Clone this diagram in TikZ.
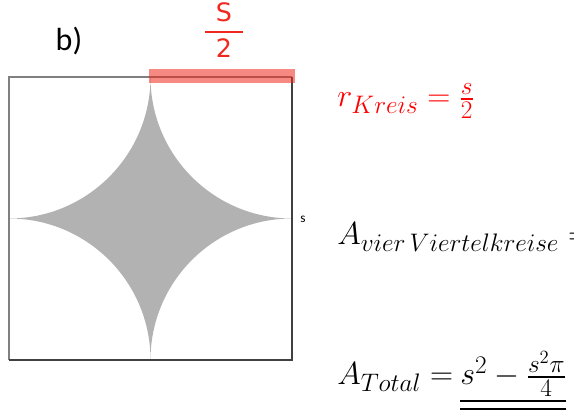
\RequirePackage{fix-cm}
\documentclass[tikz,border=0pt]{standalone}
\usepackage{amsmath}
\usepackage{fontspec}
\newfontfamily\calfont{Carlito}
\newfontfamily\handfont{DejaVu Sans}
\DeclareMathSizes{24}{24}{19}{14}
\usetikzlibrary{positioning}
\definecolor{starfill}{RGB}{178,178,178}
\definecolor{markred}{RGB}{240,40,30}
\definecolor{formred}{RGB}{255,0,0}

\begin{document}
\begin{tikzpicture}[x=0.75pt, y=0.75pt,
    formula/.style={anchor=base west, inner sep=0pt, font=\fontsize{24}{28}\selectfont},
    hand/.style={text=markred, inner sep=0pt, font=\fontsize{19}{24}\selectfont},
    edge/.style={line width=1.5pt, line cap=square}]
  \useasboundingbox (0,0) rectangle (574,416);
  \clip (0,0) rectangle (574,416);
  % the star: square minus four quarter circles
  \fill[starfill] (150.5,339) arc (0:-90:141.5) arc (90:0:141.5)
    arc (180:90:141.5) arc (270:180:141.5) -- cycle;
  \draw[edge, black!50] (292,339) -- (9,339) -- (9,56);
  \draw[edge, black!75] (9,56) -- (292,56) -- (292,339);
  % marked half side
  \fill[markred, opacity=0.55] (149,333) rectangle (295,347);
  \node[hand] (half) at (224,386)
    {$\genfrac{}{}{1.5pt}{0}{\makebox[28pt]{\handfont S}}{\mbox{\handfont 2}}$};
  \node[font=\calfont\fontsize{24}{28}\selectfont] (part) at (69,375) {b)};
  \node[font=\calfont\fontsize{10}{12}\selectfont] (side) at (303,197) {s};
  % formulas
  \node[formula, text=formred] (radius) at (337,309) {$r_{Kreis} = \frac{s}{2}$};
  \node[formula] (quarters) at (337,171) {$A_{vier\,Viertelkreise} =$};
  \node[formula] (total) at (337,31) {$A_{Total} =$};
  \node[formula] (result) at (460,31) {$s^2 - \frac{s^2\pi}{4}$};
  \draw[line width=1.4pt] ([yshift=-3.5pt]result.south west) -- ([yshift=-3.5pt]result.south east);
  \draw[line width=1.4pt] ([yshift=-9.5pt]result.south west) -- ([yshift=-9.5pt]result.south east);
\end{tikzpicture}
\end{document}
